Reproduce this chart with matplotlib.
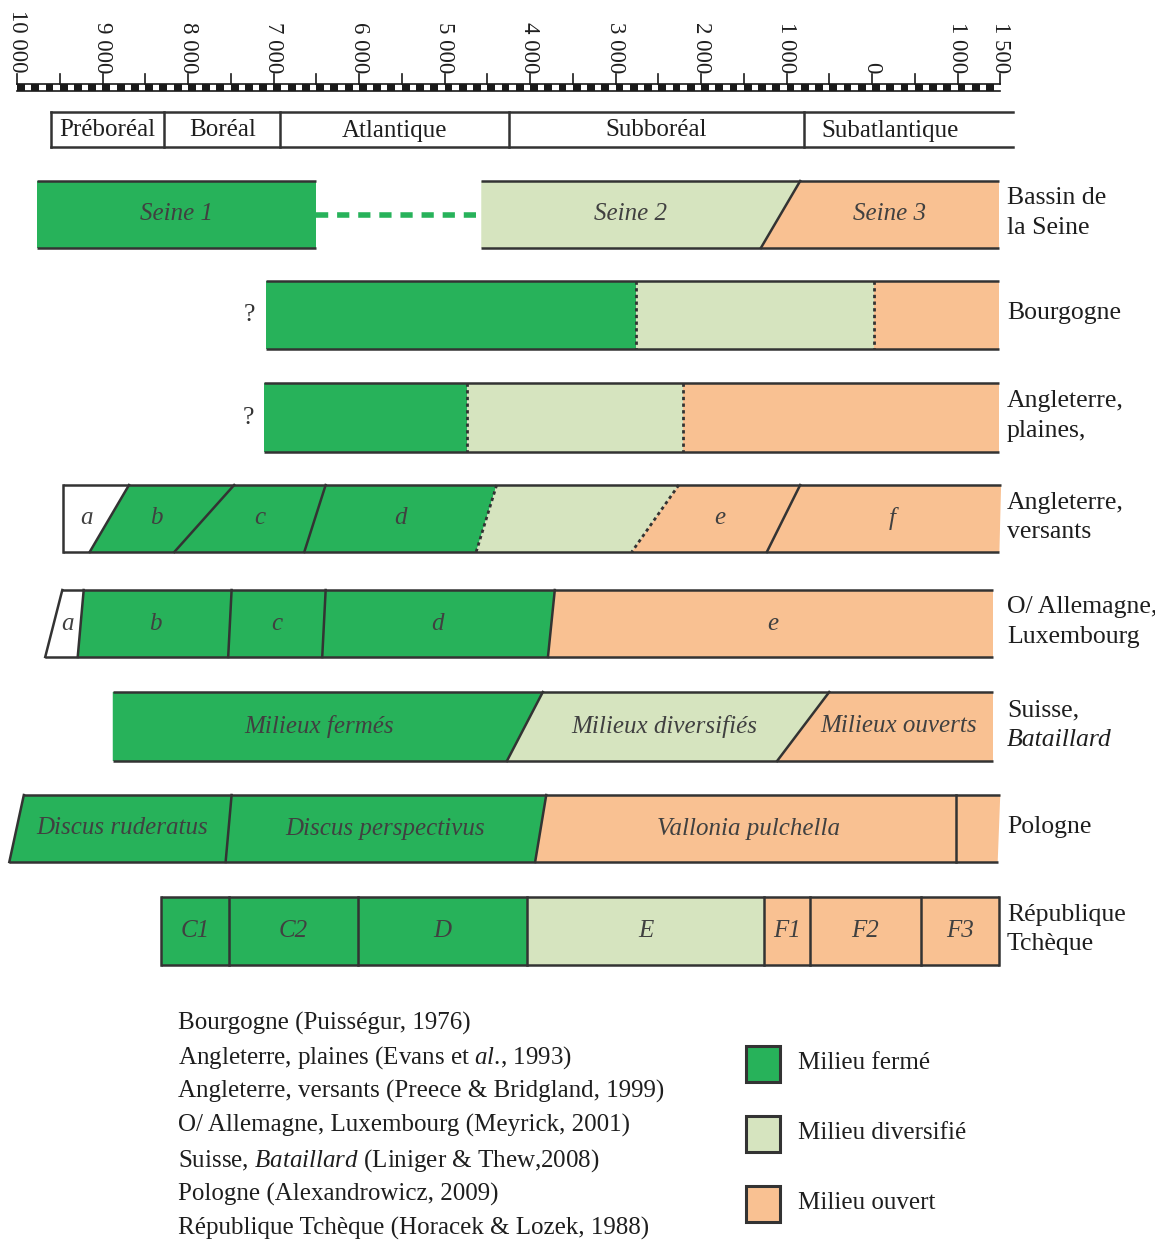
import matplotlib
matplotlib.use("Agg")
import matplotlib.pyplot as plt
from matplotlib.patches import Polygon, Rectangle

plt.rcParams['font.family'] = ['Liberation Serif', 'DejaVu Serif']
plt.rcParams['mathtext.fontset'] = 'custom'
plt.rcParams['mathtext.rm'] = 'Liberation Serif'
plt.rcParams['mathtext.it'] = 'Liberation Serif:italic'

# ---------------- data ----------------
COLORS = {'F': '#27b25a', 'D': '#d6e4bf', 'O': '#f9c192', 'W': '#ffffff'}
LEGEND_LABELS = ['Milieu fermé', 'Milieu diversifié', 'Milieu ouvert']
LEGEND_KINDS = ['F', 'D', 'O']

# time scale (years BC; AD negative)
SCALE_TICKS = list(range(10000, -1501, -500))
SCALE_LABEL_POS = [10000, 9000, 8000, 7000, 6000, 5000, 4000, 3000, 2000, 1000, 0, -1000, -1500]
SCALE_LABELS = ['10 000', '9 000', '8 000', '7 000', '6 000', '5 000', '4 000', '3 000',
                '2 000', '1 000', '0', '1 000', '1 500']

PERIOD_NAMES = ['Préboréal', 'Boréal', 'Atlantique', 'Subboréal', 'Subatlantique']
PERIOD_BOUNDS = [9600, 8280, 6920, 4250, 790, -1650]

# rows: boundaries on top and bottom edge, kinds of cells, labels, boundary styles
SEINE_TOP = [9770, 6500, 4570, 840, -1490]
SEINE_BOT = [9770, 6500, 4570, 1300, -1490]
SEINE_KIND = ['F', 'gap', 'D', 'O']
SEINE_LAB = ['Seine 1', '', 'Seine 2', 'Seine 3']
SEINE_EDGE = ['none', 'none', 'none', 'solid', 'none']

BOURG_TOP = [7090, 2760, -20, -1490]
BOURG_BOT = [7090, 2760, -20, -1490]
BOURG_KIND = ['F', 'D', 'O']
BOURG_LAB = ['', '', '']
BOURG_EDGE = ['none', 'dotted', 'dotted', 'none']

PLAIN_TOP = [7110, 4740, 2210, -1490]
PLAIN_BOT = [7110, 4740, 2210, -1490]
PLAIN_KIND = ['F', 'D', 'O']
PLAIN_LAB = ['', '', '']
PLAIN_EDGE = ['none', 'dotted', 'dotted', 'none']

VERS_TOP = [9460, 8690, 7460, 6390, 4390, 2260, 840, -1510]
VERS_BOT = [9460, 9150, 8160, 6640, 4630, 2810, 1230, -1490]
VERS_KIND = ['W', 'F', 'F', 'F', 'D', 'O', 'O']
VERS_LAB = ['a', 'b', 'c', 'd', '', 'e', 'f']
VERS_EDGE = ['solid', 'solid', 'solid', 'solid', 'dotted', 'dotted', 'solid', 'none']

ALLEM_TOP = [9470, 9220, 7490, 6390, 3710, -1420]
ALLEM_BOT = [9670, 9290, 7530, 6430, 3790, -1420]
ALLEM_KIND = ['W', 'F', 'F', 'F', 'O']
ALLEM_LAB = ['a', 'b', 'c', 'd', 'e']
ALLEM_EDGE = ['solid', 'solid', 'solid', 'solid', 'solid', 'none']

SUISSE_TOP = [8880, 3850, 500, -1420]
SUISSE_BOT = [8880, 4270, 1110, -1420]
SUISSE_KIND = ['F', 'D', 'O']
SUISSE_LAB = ['Milieux fermés', 'Milieux diversifiés', 'Milieux ouverts']
SUISSE_EDGE = ['none', 'solid', 'solid', 'none']

POL_TOP = [9920, 7490, 3810, -980, -1500]
POL_BOT = [10090, 7560, 3940, -980, -1470]
POL_KIND = ['F', 'F', 'O', 'O']
POL_LAB = ['Discus ruderatus', 'Discus perspectivus', 'Vallonia pulchella', '']
POL_EDGE = ['solid', 'solid', 'solid', 'solid', 'none']

TCH_TOP = [8320, 7520, 6010, 4040, 1260, 730, -570, -1490]
TCH_BOT = [8320, 7520, 6010, 4040, 1260, 730, -570, -1490]
TCH_KIND = ['F', 'F', 'F', 'D', 'O', 'O', 'O']
TCH_LAB = ['C1', 'C2', 'D', 'E', 'F1', 'F2', 'F3']
TCH_EDGE = ['solid', 'solid', 'solid', 'solid', 'solid', 'solid', 'solid', 'solid']

ROW_NAMES = [['Bassin de', 'la Seine'], ['Bourgogne'], ['Angleterre,', 'plaines,'],
             ['Angleterre,', 'versants'], ['O/ Allemagne,', 'Luxembourg'],
             ['Suisse,', 'Bataillard'], ['Pologne'], ['République', 'Tchèque']]
ROW_QUESTION = [False, True, True, False, False, False, False, False]

REFERENCES = ['Bourgogne (Puisségur, 1976)',
              'Angleterre, plaines (Evans et $al$., 1993)',
              'Angleterre, versants (Preece & Bridgland, 1999)',
              'O/ Allemagne, Luxembourg (Meyrick, 2001)',
              'Suisse, $Bataillard$ (Liniger & Thew,2008)',
              'Pologne (Alexandrowicz, 2009)',
              'République Tchèque (Horacek & Lozek, 1988)']

# ---------------- layout ----------------
W, H = 1155, 1242
K = 0.0855          # pixels per year
X10K = 17           # pixel position of 10 000
fig = plt.figure(figsize=(W / 100, H / 100), dpi=100)
ax = fig.add_axes([0, 0, 1, 1])
ax.set_xlim(10000 + X10K / K, 10000 - (W - X10K) / K)
ax.set_ylim(H, 0)
ax.axis('off')
lay = fig.add_axes([0, 0, 1, 1])
lay.set_xlim(0, W)
lay.set_ylim(H, 0)
lay.axis('off')
lay.patch.set_alpha(0)

EC = '#333333'
LW = 1.8
TXT = '#404040'
INK = '#1e1e1e'
FS_CELL = 18
FS_NAME = 18.5
FS_REF = 18
FS_PER = 18
FS_SCALE = 16.5

# --- time scale ---
bar_top, bar_bot = 84, 91
period = 500 / 3
t = SCALE_TICKS[0]
while t > SCALE_TICKS[-1]:
    e = max(t - period * 0.55, SCALE_TICKS[-1])
    ax.add_patch(Rectangle((t, bar_top), e - t, bar_bot - bar_top, facecolor='#1a1a1a',
                           edgecolor='none', zorder=2))
    t -= period
ax.plot([SCALE_TICKS[0], SCALE_TICKS[-1]], [bar_top, bar_top], color='#1a1a1a', lw=1.2, zorder=3)
ax.plot([SCALE_TICKS[0], SCALE_TICKS[-1]], [bar_bot, bar_bot], color='#1a1a1a', lw=1.2, zorder=3)
for tk in SCALE_TICKS:
    ax.plot([tk, tk], [74, bar_top], color='#1a1a1a', lw=1.2, zorder=3)
for tk, lab in zip(SCALE_LABEL_POS, SCALE_LABELS):
    ax.text(tk, 73, lab, rotation=-90, ha='center', va='bottom', fontsize=FS_SCALE, color=INK)

# --- periods ---
p_top, p_bot = 112, 147
ax.plot([PERIOD_BOUNDS[0], PERIOD_BOUNDS[-1]], [p_top, p_top], color=EC, lw=LW)
ax.plot([PERIOD_BOUNDS[0], PERIOD_BOUNDS[-1]], [p_bot, p_bot], color=EC, lw=LW)
for tb in PERIOD_BOUNDS[:-1]:
    ax.plot([tb, tb], [p_top, p_bot], color=EC, lw=LW)
for i, name in enumerate(PERIOD_NAMES):
    if i < len(PERIOD_NAMES) - 1:
        cx = (PERIOD_BOUNDS[i] + PERIOD_BOUNDS[i + 1]) / 2
    else:
        cx = PERIOD_BOUNDS[i] - 1000
    ax.text(cx, (p_top + p_bot) / 2 + 1, name, ha='center', va='center', fontsize=FS_PER, color=INK)

# --- rows ---
ROWS = [(SEINE_TOP, SEINE_BOT, SEINE_KIND, SEINE_LAB, SEINE_EDGE),
        (BOURG_TOP, BOURG_BOT, BOURG_KIND, BOURG_LAB, BOURG_EDGE),
        (PLAIN_TOP, PLAIN_BOT, PLAIN_KIND, PLAIN_LAB, PLAIN_EDGE),
        (VERS_TOP, VERS_BOT, VERS_KIND, VERS_LAB, VERS_EDGE),
        (ALLEM_TOP, ALLEM_BOT, ALLEM_KIND, ALLEM_LAB, ALLEM_EDGE),
        (SUISSE_TOP, SUISSE_BOT, SUISSE_KIND, SUISSE_LAB, SUISSE_EDGE),
        (POL_TOP, POL_BOT, POL_KIND, POL_LAB, POL_EDGE),
        (TCH_TOP, TCH_BOT, TCH_KIND, TCH_LAB, TCH_EDGE)]
ROW_Y = [(181, 248), (281, 349), (383, 452), (485, 552), (590, 657), (692, 761), (795, 862), (897, 965)]

for r, (top, bot, kinds, labs, edges) in enumerate(ROWS):
    yt, yb = ROW_Y[r]
    ym = (yt + yb) / 2
    for i, kind in enumerate(kinds):
        if kind == 'gap':
            ax.plot([top[i], top[i + 1]], [ym, ym], color=COLORS['F'], lw=4, ls=(0, (2.2, 1.6)),
                    solid_capstyle='butt', zorder=2)
        else:
            poly = Polygon([(top[i], yt), (top[i + 1], yt), (bot[i + 1], yb), (bot[i], yb)],
                           closed=True, facecolor=COLORS[kind], edgecolor='none', zorder=1)
            ax.add_patch(poly)
            if labs[i]:
                cx = (top[i] + top[i + 1] + bot[i] + bot[i + 1]) / 4
                ax.text(cx, ym, labs[i], ha='center', va='center', fontsize=FS_CELL, style='italic',
                        color=TXT, zorder=4)
    # top / bottom lines for contiguous segments
    i = 0
    n = len(kinds)
    while i < n:
        if kinds[i] == 'gap':
            i += 1
            continue
        j = i
        while j + 1 < n and kinds[j + 1] != 'gap':
            j += 1
        ax.plot([top[i], top[j + 1]], [yt, yt], color=EC, lw=LW, zorder=3, solid_capstyle='butt')
        ax.plot([bot[i], bot[j + 1]], [yb, yb], color=EC, lw=LW, zorder=3, solid_capstyle='butt')
        i = j + 1
    for j, st in enumerate(edges):
        if st == 'none':
            continue
        ls = '-' if st == 'solid' else (0, (1.2, 1.2))
        ax.plot([top[j], bot[j]], [yt, yb], color=EC, lw=LW if st == 'solid' else 2.0, ls=ls, zorder=3)
    if ROW_QUESTION[r]:
        ax.text(top[0] + 120, ym, '?', ha='right', va='center', fontsize=FS_NAME, color='#333333')
    names = ROW_NAMES[r]
    if len(names) == 1:
        lay.text(1007, ym - 2, names[0], ha='left', va='center', fontsize=FS_NAME, color=INK)
    else:
        for k, nm in enumerate(names):
            italic = (nm == 'Bataillard')
            lay.text(1007, ym - 16 + 29 * k, nm, ha='left', va='center', fontsize=FS_NAME,
                     color=INK, style='italic' if italic else 'normal')

# --- reference list ---
for k, ref in enumerate(REFERENCES):
    lay.text(178, 1023 + 34.3 * k, ref, ha='left', va='center', fontsize=FS_REF, color=INK)

# --- legend ---
for k, (kind, lab) in enumerate(zip(LEGEND_KINDS, LEGEND_LABELS)):
    y0 = 1046 + 70 * k
    lay.add_patch(Rectangle((746, y0), 34, 36, facecolor=COLORS[kind], edgecolor=EC, lw=2.2))
    lay.text(798, y0 + 17, lab, ha='left', va='center', fontsize=FS_REF, color=INK)

fig.savefig('out.png', dpi=100)
